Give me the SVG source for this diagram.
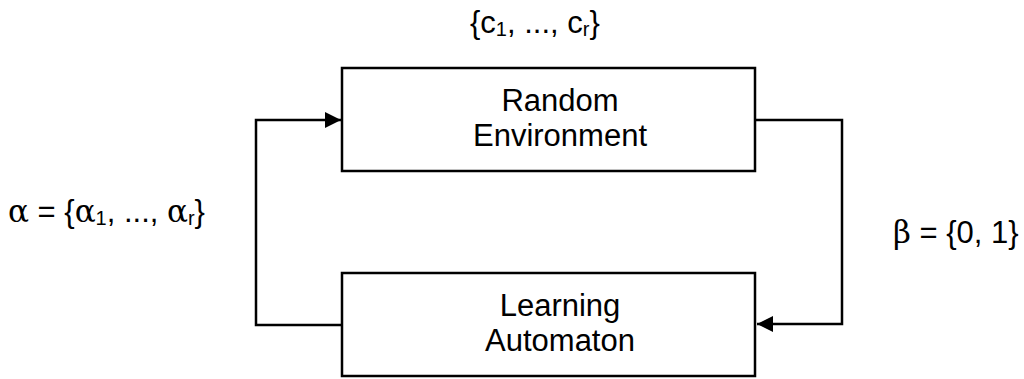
<svg xmlns="http://www.w3.org/2000/svg" width="1024" height="379" viewBox="0 0 1024 379">
<style>
.box{fill:#fff;stroke:#000;stroke-width:2.5}
.ln{fill:none;stroke:#000;stroke-width:2.5}
.t{font-family:"Liberation Sans",Arial,sans-serif;font-size:31px;fill:#000}
.g{font-family:"DejaVu Serif","Liberation Serif",serif}
.s{font-size:20px}
</style>
<defs>
<marker id="ah" viewBox="0 0 10 10" refX="10" refY="5" markerWidth="6.5" markerHeight="6.5" markerUnits="strokeWidth" orient="auto">
<path d="M0,0 L10,5 L0,10 z" fill="#000"/>
</marker>
</defs>
<g id="connectors">
<polyline class="ln" points="342,325 256,325 256,120 341,120" marker-end="url(#ah)"/>
<polyline class="ln" points="755,120 842,120 842,324 757,324" marker-end="url(#ah)"/>
</g>
<g id="env">
<rect class="box" x="342" y="68" width="413" height="103"/>
<text class="t" x="560" y="111" text-anchor="middle">Random</text>
<text class="t" x="560" y="146" text-anchor="middle">Environment</text>
</g>
<g id="automaton">
<rect class="box" x="342" y="273" width="413" height="103"/>
<text class="t" x="560" y="316" text-anchor="middle">Learning</text>
<text class="t" x="560" y="351" text-anchor="middle">Automaton</text>
</g>
<g id="labels">
<text class="t" x="470" y="33">{c<tspan class="s" dy="3">1</tspan><tspan dy="-3">, ..., c</tspan><tspan class="s" dy="3">r</tspan><tspan dy="-3">}</tspan></text>
<text class="t" x="8" y="222"><tspan class="g">α</tspan> = {<tspan class="g">α</tspan><tspan class="s" dy="3">1</tspan><tspan dy="-3">, ..., </tspan><tspan class="g">α</tspan><tspan class="s" dy="3">r</tspan><tspan dy="-3">}</tspan></text>
<text class="t" x="893" y="243"><tspan class="g">β</tspan> = {0, 1}</text>
</g>
</svg>
